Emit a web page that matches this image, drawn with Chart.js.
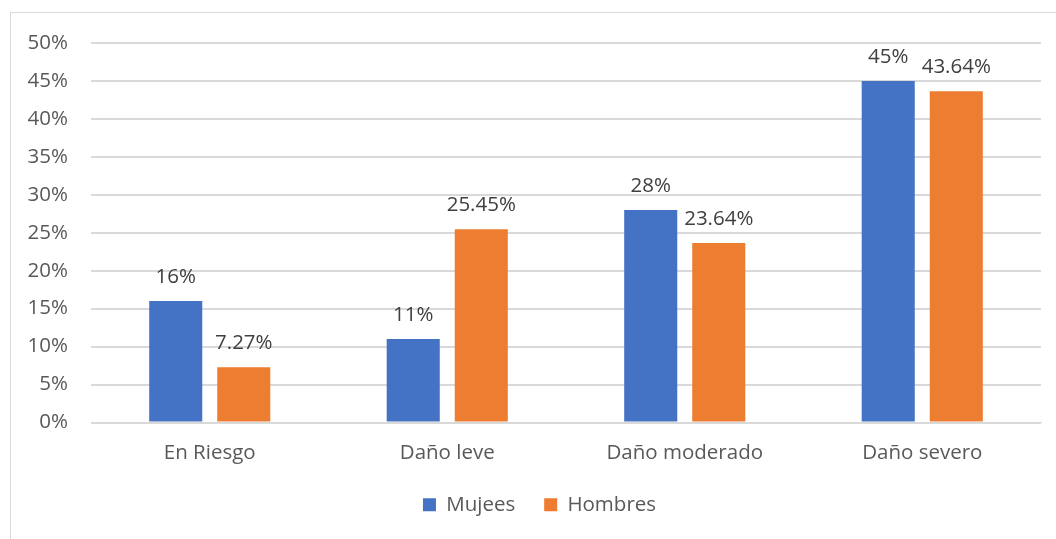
<!DOCTYPE html>
<html>
<head>
<meta charset="utf-8">
<script src="https://cdn.jsdelivr.net/npm/chart.js@4"></script>
<style>
  html, body { margin: 0; padding: 0; background: #fff; overflow: hidden; }
  #frame { position: absolute; left: 10px; top: 12px; width: 1100px; height: 600px; border: 1px solid #d9d9d9; }
  #wrap { position: absolute; left: 0; top: 0; width: 1056px; height: 539px; }
</style>
</head>
<body>
<div id="frame"></div>
<div id="wrap"><canvas id="grafico" width="1056" height="539"></canvas></div>
<script>
const categorias = ['En Riesgo', 'Daño leve', 'Daño moderado', 'Daño severo'];
const mujeres = [16, 11, 28, 45];
const hombres = [7.27, 25.45, 23.64, 43.64];
const etiquetas = ['Mujees', 'Hombres'];

const FUENTE = "'Open Sans', 'Liberation Sans', sans-serif";
const TAM = 20.5;

// writes the value above every bar
const valoresSobreBarras = {
  id: 'valoresSobreBarras',
  afterDatasetsDraw(chart) {
    const ctx = chart.ctx;
    ctx.save();
    ctx.font = TAM + 'px ' + FUENTE;
    ctx.fillStyle = '#404040';
    ctx.textAlign = 'center';
    ctx.textBaseline = 'alphabetic';
    chart.data.datasets.forEach((ds, i) => {
      chart.getDatasetMeta(i).data.forEach((bar, j) => {
        let v = ds.data[j];
        let txt = (i == 0 ? v.toFixed(0) : v.toFixed(2)) + '%';
        ctx.fillText(txt, bar.x, bar.y - 18);
      });
    });
    ctx.restore();
  }
};

// nudge the legend a bit to the right, under the plot
const moverLeyenda = {
  id: 'moverLeyenda',
  afterLayout(chart) {
    chart.legend.left += 19;
    chart.legend.right += 19;
  }
};

const canvas = document.getElementById('grafico');
const chart = new Chart(canvas.getContext('2d'), {
  type: 'bar',
  data: {
    labels: categorias,
    datasets: [
      { label: etiquetas[0], data: mujeres, backgroundColor: '#4472C4' },
      { label: etiquetas[1], data: hombres, backgroundColor: '#ED7D31' }
    ]
  },
  options: {
    responsive: false,
    animation: false,
    datasets: { bar: { categoryPercentage: 0.573, barPercentage: 0.78 } },
    layout: { padding: { top: 43, right: 15, bottom: 14 } },
    plugins: {
      tooltip: { enabled: false },
      legend: {
        position: 'bottom',
        labels: {
          color: '#595959',
          font: { size: TAM, family: FUENTE },
          boxWidth: 13,
          boxHeight: 13,
          padding: 29
        }
      }
    },
    scales: {
      x: {
        grid: { display: false },
        border: { color: '#d9d9d9' },
        ticks: { color: '#595959', font: { size: TAM, family: FUENTE }, padding: 10 },
        afterFit(scale) { scale.height = 43; }
      },
      y: {
        min: 0,
        max: 50,
        grid: { color: '#d9d9d9', lineWidth: 2, drawTicks: false },
        border: { display: false },
        ticks: {
          stepSize: 5,
          color: '#595959',
          font: { size: TAM, family: FUENTE },
          padding: 23,
          callback: v => v + '%'
        },
        afterFit(scale) { scale.width = 91; }
      }
    }
  },
  plugins: [valoresSobreBarras, moverLeyenda]
});
</script>
</body>
</html>
